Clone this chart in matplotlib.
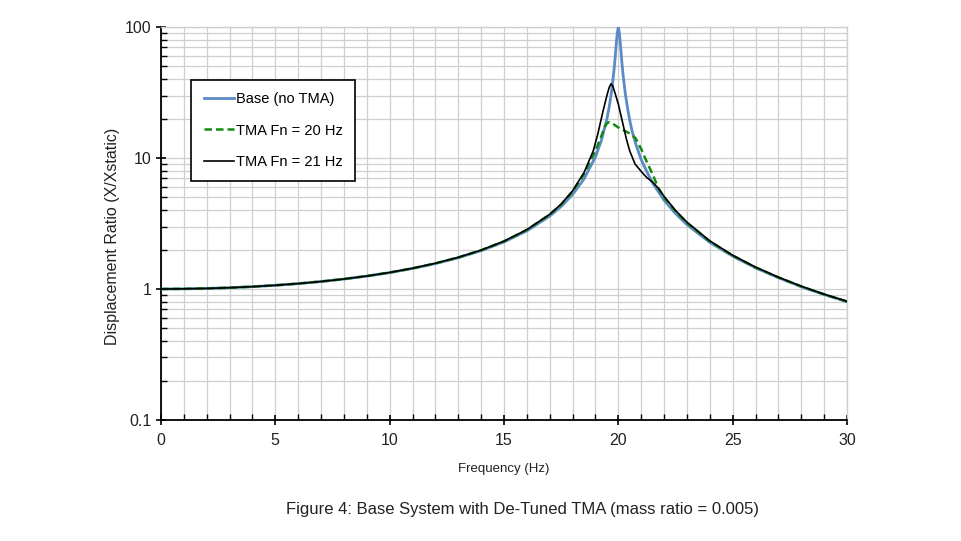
import numpy as np
import matplotlib
matplotlib.use('Agg')
from matplotlib import pyplot as plt
from matplotlib.ticker import LogLocator, MultipleLocator, FixedLocator, NullFormatter, FuncFormatter

plt.rcParams['font.family'] = ['Liberation Sans', 'DejaVu Sans']

# Base system, no TMA
f_base = [0, 1, 2, 3, 4, 5, 6, 7, 8, 9, 10, 11, 12, 13, 14, 15, 16, 17, 17.5, 18, 18.5,
          19, 19.25, 19.5, 19.6, 19.7, 19.8, 19.85, 19.9, 19.95, 20, 20.05, 20.1, 20.15,
          20.2, 20.3, 20.4, 20.5, 20.6, 20.75, 21, 21.25, 21.5, 22, 22.5, 23, 24, 25, 26,
          27, 28, 29, 30]
x_base = [1.000, 1.003, 1.010, 1.023, 1.042, 1.067, 1.099, 1.140, 1.191, 1.254, 1.333,
          1.434, 1.563, 1.732, 1.961, 2.286, 2.778, 3.604, 4.267, 5.263, 6.926,
          10.21, 13.47, 19.87, 24.6, 31.9, 45.0, 55.5, 71.0, 89.0, 100.0, 88.5, 70.4, 55.0,
          44.4, 31.4, 24.2, 19.36, 16.1, 12.97, 9.71, 7.84, 6.43, 4.76, 3.77, 3.10, 2.27,
          1.78, 1.45, 1.22, 1.04, 0.907, 0.800]

# TMA tuned to 20 Hz
f_tma20 = [0, 1, 2, 3, 4, 5, 6, 7, 8, 9, 10, 11, 12, 13, 14, 15, 16, 17, 17.5, 18, 18.5,
           19, 19.25, 19.4, 19.5, 19.6, 19.75, 20, 20.25, 20.5, 20.75, 21, 21.25, 21.5,
           21.75, 22, 22.5, 23, 24, 25, 26, 27, 28, 29, 30]
x_tma20 = [1.000, 1.003, 1.010, 1.023, 1.042, 1.067, 1.100, 1.141, 1.192, 1.256, 1.336,
           1.438, 1.569, 1.742, 1.977, 2.31, 2.83, 3.70, 4.42, 5.55, 7.55,
           11.4, 14.6, 17.2, 18.4, 18.8, 18.3, 17.1, 16.2, 15.4, 14.2, 11.7, 9.3, 7.5,
           5.9, 5.0, 3.92, 3.20, 2.31, 1.80, 1.46, 1.225, 1.045, 0.910, 0.802]

# TMA tuned to 21 Hz
f_tma21 = [0, 1, 2, 3, 4, 5, 6, 7, 8, 9, 10, 11, 12, 13, 14, 15, 16, 17, 17.5, 18, 18.5,
           18.9, 19.1, 19.33, 19.5, 19.6, 19.68, 19.76, 19.85, 20, 20.2, 20.35, 20.5, 20.73,
           21, 21.24, 21.5, 21.74, 22, 22.5, 23, 24, 25, 26, 27, 28, 29, 30]
x_tma21 = [1.000, 1.003, 1.010, 1.023, 1.042, 1.067, 1.100, 1.141, 1.192, 1.256, 1.337,
           1.440, 1.571, 1.745, 1.981, 2.32, 2.84, 3.72, 4.45, 5.62, 7.75,
           11.3, 15.2, 22.8, 30.0, 34.6, 36.9, 35.4, 31.5, 25.8, 18.2, 14.0, 11.3, 9.0,
           7.9, 7.1, 6.55, 5.9, 5.1, 3.98, 3.24, 2.33, 1.81, 1.47, 1.23, 1.05, 0.912, 0.805]

fig = plt.figure(figsize=(9.61, 5.41), dpi=100)
ax = fig.add_axes([0.1675, 0.2237, 0.7139, 0.7263])

ax.plot(f_base, x_base, color='#5B8AC6', lw=2.0, label='Base (no TMA)', zorder=3)
ax.plot(f_tma20, x_tma20, color='#108A10', lw=1.8, ls=(0, (3, 1.6)), label='TMA Fn = 20 Hz', zorder=4)
ax.plot(f_tma21, x_tma21, color='black', lw=1.2, label='TMA Fn = 21 Hz', zorder=5)

ax.set_yscale('log')
ax.set_xlim(0, 30)
ax.set_ylim(0.1, 100)

ax.xaxis.set_major_locator(MultipleLocator(5))
ax.xaxis.set_minor_locator(MultipleLocator(1))
ax.yaxis.set_major_locator(FixedLocator([0.1, 1, 10, 100]))
ax.yaxis.set_major_formatter(FuncFormatter(lambda v, p: '%g' % v))
ax.yaxis.set_minor_locator(LogLocator(base=10, subs=np.arange(2, 10)))
ax.yaxis.set_minor_formatter(NullFormatter())

ax.grid(True, which='both', color='#cfcfcf', lw=0.9)
ax.set_axisbelow(True)

ax.tick_params(axis='both', which='major', direction='inout', length=7, width=1.2,
               labelsize=11.5, colors='black', labelcolor='#222222')
ax.tick_params(axis='both', which='minor', direction='in', length=4, width=1.0)
ax.tick_params(axis='x', which='major', pad=6)

for s in ['top', 'right']:
    ax.spines[s].set_color('#cfcfcf')
    ax.spines[s].set_linewidth(1.0)
for s in ['left', 'bottom']:
    ax.spines[s].set_color('black')
    ax.spines[s].set_linewidth(1.3)

ax.set_xlabel('Frequency (Hz)', fontsize=9.5, color='#222222', labelpad=11)
ax.set_ylabel('Displacement Ratio (X/Xstatic)', fontsize=11.5, color='#222222')
ax.yaxis.set_label_coords(-0.059, 0.466)

leg = ax.legend(loc='upper left', bbox_to_anchor=(0.044, 0.866), fontsize=10.5,
                fancybox=False, framealpha=1, edgecolor='black', handlelength=2.1,
                handletextpad=0.1, labelspacing=1.2, borderpad=0.85, borderaxespad=0)
leg.get_frame().set_linewidth(1.2)

fig.text(0.544, 0.058, 'Figure 4: Base System with De-Tuned TMA (mass ratio = 0.005)',
         ha='center', va='center', fontsize=12, color='#222222')

fig.savefig('out.png', dpi=100)
